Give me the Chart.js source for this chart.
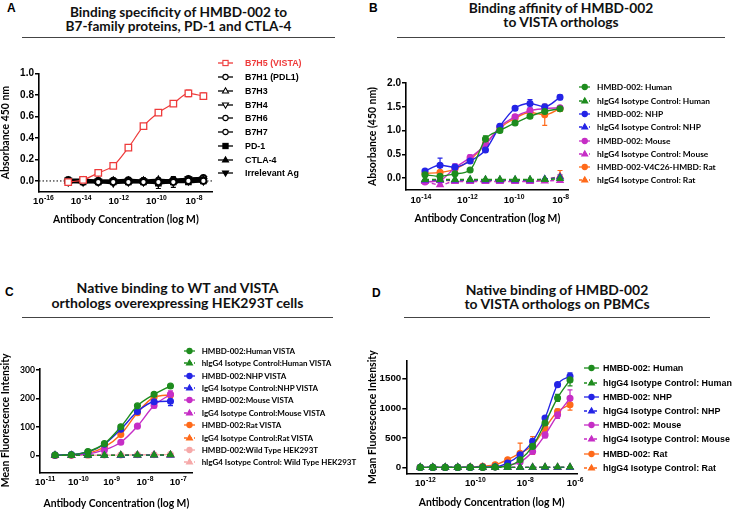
<!DOCTYPE html>
<html>
<head>
<meta charset="utf-8">
<script src="https://cdn.jsdelivr.net/npm/chart.js@4.4.1/dist/chart.umd.min.js"></script>
<style>
  body { margin: 0; background: #fff; }
  #fig { position: relative; width: 734px; height: 509px; overflow: hidden; }
  .letter { position: absolute; font: bold 12px 'Liberation Sans', Arial, sans-serif; line-height: 12px; color: #000; }
  .title { position: absolute; text-align: center; font-family: Lato, sans-serif; font-weight: bold; line-height: 14.5px; color: #111; white-space: nowrap; }
  .rule { position: absolute; height: 0; border-top: 1px solid #444; }
  canvas { position: absolute; }
  .legend { position: absolute; left: 0; top: 0; }
  .legend div { position: absolute; height: 12px; white-space: nowrap; }
</style>
</head>
<body>
<div id="fig">
  <div class="letter" style="left:7px;top:2px">A</div>
  <div class="title" id="tA" style="left:22px;width:313px">Binding specificity of HMBD-002 to<br>B7-family proteins, PD-1 and CTLA-4</div>
  <div class="rule" style="left:22px;width:313px;top:37px"></div>

  <div class="letter" style="left:369px;top:2px">B</div>
  <div class="title" id="tB" style="left:397px;width:328px">Binding affinity of HMBD-002<br>to VISTA orthologs</div>
  <div class="rule" style="left:397px;width:328px;top:37px"></div>

  <div class="letter" style="left:5px;top:286px">C</div>
  <div class="title" id="tC" style="left:22px;width:311px">Native binding to WT and VISTA<br>orthologs overexpressing HEK293T cells</div>
  <div class="rule" style="left:22px;width:311px;top:317px"></div>

  <div class="letter" style="left:372px;top:287px">D</div>
  <div class="title" id="tD" style="left:404px;width:306px">Native binding of HMBD-002<br>to VISTA orthologs on PBMCs</div>
  <div class="rule" style="left:404px;width:306px;top:317px"></div>

  <canvas id="cA" width="367" height="205" style="left:0;top:50px"></canvas>
  <canvas id="cB" width="367" height="205" style="left:367px;top:50px"></canvas>
  <canvas id="cC" width="367" height="184" style="left:0;top:330px"></canvas>
  <canvas id="cD" width="367" height="184" style="left:367px;top:330px"></canvas>
  <div class="legend" id="legA"></div>
  <div class="legend" id="legB"></div>
  <div class="legend" id="legC"></div>
  <div class="legend" id="legD"></div>
</div>
<script>
// ---------- Panel A: binding specificity (ELISA) ----------
const xA = [2.1e-15, 1.3e-14, 8.3e-14, 5.2e-13, 3.3e-12, 2.1e-11, 1.3e-10, 8.1e-10, 5.1e-9, 3.2e-8];
const vistaA = [-0.01, 0.01, 0.075, 0.14, 0.31, 0.51, 0.635, 0.72, 0.815, 0.79];
const errVistaA = [0, 0, 0.02, 0, 0, 0, 0, 0, 0.03, 0.03];
const b7h1A = [0.00, -0.01, -0.01, -0.01, -0.01, -0.01, -0.01, -0.01, 0.00, 0.00];
const b7h3A = [0.00, 0.00, 0.00, 0.00, 0.00, 0.00, 0.01, 0.00, 0.01, 0.01];
const b7h4A = [-0.01, -0.01, -0.01, -0.02, -0.01, -0.01, -0.02, -0.01, 0.00, 0.00];
const b7h6A = [0.00, 0.00, -0.01, 0.00, 0.00, 0.00, -0.01, 0.00, 0.01, 0.01];
const b7h7A = [0.01, 0.00, 0.00, 0.00, 0.01, 0.00, 0.00, 0.01, 0.02, 0.03];
const pd1A = [-0.01, -0.01, -0.01, -0.01, -0.01, -0.01, -0.02, -0.01, -0.01, 0.00];
const errPd1A = [0, 0, 0, 0, 0, 0, 0.05, 0.05, 0, 0];
const ctla4A = [0.00, 0.00, 0.00, 0.00, 0.00, 0.00, 0.00, 0.00, 0.01, 0.01];
const irrA = [0.01, 0.01, 0.00, 0.00, 0.00, 0.00, -0.01, 0.00, 0.02, 0.02];
const errIrrA = [0.025, 0.025, 0.03, 0.03, 0.03, 0.03, 0.03, 0.03, 0.015, 0.015];
const xTicksA = [1e-16, 1e-14, 1e-12, 1e-10, 1e-8];
const xExpA = ['-16', '-14', '-12', '-10', '-8'];
const yTicksA = [0, 0.2, 0.4, 0.6, 0.8, 1.0];
const yLabelsA = ['0.0', '0.2', '0.4', '0.6', '0.8', '1.0'];

// ---------- Panel B: binding affinity to orthologs ----------
const xB = [1.53e-14, 6.76e-14, 2.95e-13, 1.32e-12, 6.0e-12, 2.5e-11, 1.12e-10, 4.9e-10, 2.1e-9, 9.5e-9];
const humB = [0.07, 0.04, 0.09, 0.17, 0.82, 1.00, 1.16, 1.30, 1.40, 1.46];
const errHumB = [0, 0, 0, 0, 0.07, 0.03, 0.03, 0.03, 0.03, 0.04];
const humIsoB = [-0.03, -0.03, -0.03, -0.03, -0.03, -0.03, -0.03, -0.03, -0.03, -0.01];
const nhpB = [0.15, 0.27, 0.23, 0.36, 0.59, 1.09, 1.47, 1.57, 1.50, 1.70];
const errNhpB = [0.03, 0.15, 0.06, 0, 0.04, 0.04, 0.04, 0.08, 0.05, 0.05];
const nhpIsoB = [-0.04, -0.04, -0.04, -0.04, -0.04, -0.04, -0.04, -0.04, -0.02, 0.02];
const errNhpIsoB = [0, 0, 0, 0, 0, 0, 0, 0, 0, 0.05];
const mouB = [-0.08, -0.05, 0.22, 0.43, 0.70, 1.08, 1.29, 1.42, 1.46, 1.48];
const errMouB = [0, 0, 0.08, 0.06, 0.04, 0, 0.04, 0.04, 0, 0.04];
const mouIsoB = [-0.07, -0.14, -0.07, -0.07, -0.07, -0.07, -0.07, -0.07, -0.06, -0.05];
const ratB = [0.10, 0.12, 0.19, 0.38, 0.72, 1.05, 1.26, 1.38, 1.33, 1.46];
const errRatB = [0, 0, 0, 0, 0, 0, 0, 0.06, 0.22, 0.05];
const ratIsoB = [-0.05, -0.05, -0.05, -0.05, -0.05, -0.05, -0.05, -0.05, -0.03, 0.04];
const errRatIsoB = [0, 0, 0, 0, 0, 0, 0, 0, 0, 0.12];
const xTicksB = [1e-14, 1e-12, 1e-10, 1e-8];
const xExpB = ['-14', '-12', '-10', '-8'];
const yTicksB = [0, 0.5, 1.0, 1.5, 2.0];
const yLabelsB = ['0.0', '0.5', '1.0', '1.5', '2.0'];

// ---------- Panel C: HEK293T overexpressing cells ----------
const xC = [2.0e-11, 6.2e-11, 1.95e-10, 6.1e-10, 1.9e-9, 6.0e-9, 1.9e-8, 5.9e-8];
const humC = [2, 3, 14, 42, 101, 174, 214, 243];
const humIsoC = [1, 1, 1, 1, 2, 2, 2, 3];
const nhpC = [2, 4, 13, 40, 92, 154, 188, 190];
const errNhpC = [0, 0, 0, 0, 4, 5, 8, 15];
const nhpIsoC = [1, 1, 1, 1, 1, 2, 2, 2];
const mouC = [1, 2, 6, 20, 47, 103, 175, 214];
const errMouC = [0, 0, 0, 0, 0, 0, 8, 12];
const mouIsoC = [1, 1, 1, 1, 1, 1, 2, 2];
const ratC = [1, 2, 8, 30, 74, 150, 204, 212];
const ratIsoC = [1, 1, 1, 1, 1, 2, 2, 3];
const wtC = [1, 1, 1, 2, 2, 3, 3, 4];
const wtIsoC = [1, 1, 1, 1, 1, 1, 2, 2];
const xTicksC = [1e-11, 1e-10, 1e-9, 1e-8, 1e-7];
const xExpC = ['-11', '-10', '-9', '-8', '-7'];
const yTicksC = [0, 100, 200, 300];
const yLabelsC = ['0', '100', '200', '300'];

// ---------- Panel D: PBMCs ----------
const xD = [6.3e-13, 2e-12, 6.3e-12, 2e-11, 6.3e-11, 2e-10, 6.3e-10, 2e-9, 6.3e-9, 2e-8, 6.3e-8, 2e-7, 6.3e-7];
const humD = [0, 0, 0, 0, 0, 0, 5, 20, 130, 355, 750, 1175, 1480];
const errHumD = [0, 0, 0, 0, 0, 0, 0, 0, 20, 30, 40, 60, 100];
const humIsoD = [0, 0, 0, 0, 0, 0, 0, 0, 0, 0, 5, 5, 5];
const nhpD = [0, 0, 0, 0, 0, 5, 10, 75, 215, 440, 835, 1400, 1540];
const errNhpD = [0, 0, 0, 0, 0, 0, 0, 0, 40, 40, 30, 30, 60];
const nhpIsoD = [0, 0, 0, 0, 0, 0, 0, 0, 0, 0, 0, 0, 0];
const mouD = [0, 0, 0, 0, 0, 0, 5, 40, 90, 270, 550, 890, 1170];
const errMouD = [0, 0, 0, 0, 0, 0, 0, 0, 0, 20, 50, 60, 140];
const mouIsoD = [0, 0, 0, 0, 0, 0, 0, 0, 0, 0, 0, 0, 0];
const ratD = [0, 0, 0, 0, 5, 20, 45, 130, 240, 370, 665, 945, 1060];
const errRatD = [0, 0, 0, 0, 0, 0, 0, 0, 170, 150, 50, 40, 90];
const ratIsoD = [0, 0, 0, 0, 0, 0, 0, 0, 0, 0, 0, 0, 0];
const xTicksD = [1e-12, 1e-10, 1e-8, 1e-6];
const xExpD = ['-12', '-10', '-8', '-6'];
const yTicksD = [0, 500, 1000, 1500];
const yLabelsD = ['0', '500', '1000', '1500'];

const green = '#1e8c1e', blue = '#2424e6', magenta = '#c62ec6', orange = '#ff6a1a',
      pink = '#f6a9a9', red = '#ee3b3b', black = '#000';

// font size that gives `text` the width it has in the figure
const meas = document.createElement('canvas').getContext('2d');
function fitSize(text, family, target) {
  meas.font = 'bold 100px ' + family;
  return +(100 * target / meas.measureText(text).width).toFixed(2);
}

// panel titles: [id, width of first line, baseline of first line]
[['tA', 218, 17.3], ['tB', 185, 13.5], ['tC', 203, 294], ['tD', 183, 295.5]].forEach(([id, w, base]) => {
  const el = document.getElementById(id);
  const fs = fitSize(el.innerHTML.split('<br>')[0], 'Lato', w);
  el.style.fontSize = fs + 'px';
  el.style.top = (base - ((14.5 - 1.2 * fs) / 2 + 0.987 * fs)) + 'px';
});

const axisTitleSize = fitSize('Antibody Concentration (log M)', 'Lato', 146);
const yTitleSize = fitSize('Mean Fluorescence Intensity', 'Lato', 134);

function series(label, xs, ys, o) {
  return {
    label: label,
    data: xs.map((x, i) => ({ x: x, y: ys[i] })),
    borderColor: o.color,
    backgroundColor: o.color,
    pointBackgroundColor: o.open ? '#fff' : o.color,
    pointBorderColor: o.color,
    pointStyle: o.shape || 'circle',
    pointRotation: o.rot || 0,
    pointRadius: o.r || (o.shape === 'triangle' ? 3.6 : 2.9),
    pointBorderWidth: o.pw || 1.3,
    borderWidth: o.w || 1.4,
    borderDash: o.dash ? [4, 3] : [],
    errors: o.err || null,
    textColor: o.text || '#000'
  };
}

// Prism-style error bars from each dataset's `errors` array
const errorBars = {
  id: 'errorBars',
  beforeDatasetsDraw(chart) {
    const ctx = chart.ctx, y = chart.scales.y;
    chart.data.datasets.forEach((ds, i) => {
      if (!ds.errors) return;
      const meta = chart.getDatasetMeta(i);
      ctx.save();
      ctx.strokeStyle = ds.borderColor;
      ctx.lineWidth = 1.2;
      meta.data.forEach((pt, j) => {
        const e = ds.errors[j];
        if (!e) return;
        const v = ds.data[j].y;
        const y0 = y.getPixelForValue(v - e), y1 = y.getPixelForValue(v + e);
        ctx.beginPath();
        ctx.moveTo(pt.x, y0); ctx.lineTo(pt.x, y1);
        ctx.moveTo(pt.x - 2.5, y0); ctx.lineTo(pt.x + 2.5, y0);
        ctx.moveTo(pt.x - 2.5, y1); ctx.lineTo(pt.x + 2.5, y1);
        ctx.stroke();
      });
      ctx.restore();
    });
  }
};

// "10" with a raised exponent under each log tick
const powerTicks = {
  id: 'powerTicks',
  afterDraw(chart, args, o) {
    const s = chart.scales.x, ctx = chart.ctx;
    const base = "bold 9.5px 'Liberation Sans', Arial, sans-serif";
    const sup = "bold 6.8px 'Liberation Sans', Arial, sans-serif";
    ctx.save();
    ctx.fillStyle = black;
    ctx.textAlign = 'left';
    ctx.textBaseline = 'alphabetic';
    o.values.forEach((v, i) => {
      const px = s.getPixelForValue(v);
      ctx.font = base; const w1 = ctx.measureText('10').width;
      ctx.font = sup; const w2 = ctx.measureText(o.exps[i]).width;
      const x0 = px - (w1 + w2) / 2, yb = s.top + 12.5;
      ctx.font = base; ctx.fillText('10', x0, yb);
      ctx.font = sup; ctx.fillText(o.exps[i], x0 + w1 + 0.3, yb - 4);
    });
    ctx.restore();
  }
};

function plot(id, datasets, c) {
  return new Chart(document.getElementById(id), {
    type: 'line',
    data: { datasets: datasets },
    options: {
      responsive: false,
      animation: false,
      devicePixelRatio: 1,
      layout: { padding: c.pad },
      elements: {
        line: { tension: 0.4, cubicInterpolationMode: 'monotone', fill: false }
      },
      plugins: {
        legend: { display: false },
        tooltip: { enabled: false },
        powerTicks: { values: c.xTicks, exps: c.xExps }
      },
      scales: {
        x: {
          type: 'logarithmic',
          min: c.xMin, max: c.xMax,
          afterBuildTicks: s => { s.ticks = c.xTicks.map(v => ({ value: v })); },
          afterFit: s => { s.height = c.xH; },
          grid: { display: false },
          border: { color: black, width: 1.6 },
          ticks: { display: false },
          title: { display: true, text: 'Antibody Concentration (log M)', color: black,
                   font: { family: 'Lato', weight: 'bold', size: axisTitleSize }, padding: 0 }
        },
        y: {
          min: c.yMin, max: c.yMax,
          afterBuildTicks: s => { s.ticks = c.yTicks.map(v => ({ value: v })); },
          afterFit: s => { s.width = c.yW; },
          grid: { drawOnChartArea: false, drawTicks: true, tickLength: 4, color: black, lineWidth: 1.5 },
          border: { color: black, width: 1.6 },
          ticks: { padding: 1, color: black, font: c.tickFont, callback: (v, i) => c.yLabels[i] },
          title: { display: true, text: c.yTitle, color: black,
                   font: { family: 'Lato', weight: 'bold', size: yTitleSize, lineHeight: 1 }, padding: 0 }
        }
      }
    },
    plugins: [errorBars, powerTicks]
  });
}

function symbolSvg(ds, L) {
  const c = ds.borderColor, f = ds.pointBackgroundColor, m = L / 2, y = 6;
  const dash = ds.borderDash.length ? ' stroke-dasharray="3 2"' : '';
  let shape;
  if (ds.pointStyle === 'rect') {
    shape = `<rect x="${m - 2.6}" y="${y - 2.6}" width="5.2" height="5.2"/>`;
  } else if (ds.pointStyle === 'triangle') {
    const k = ds.pointRotation ? -1 : 1;
    shape = `<polygon points="${m},${y - 3.2 * k} ${m + 3},${y + 2 * k} ${m - 3},${y + 2 * k}"/>`;
  } else {
    shape = `<circle cx="${m}" cy="${y}" r="2.6"/>`;
  }
  return `<svg width="${L}" height="12" style="position:absolute;left:0;top:0">` +
    `<line x1="0" y1="${y}" x2="${L}" y2="${y}" stroke="${c}" stroke-width="1.3"${dash}/>` +
    `<g fill="${f}" stroke="${c}" stroke-width="1.1">${shape}</g></svg>`;
}

// HTML legend built from the chart's own legend items
function htmlLegend(chart, id, o) {
  const box = document.getElementById(id);
  const items = Chart.defaults.plugins.legend.labels.generateLabels(chart)
    .filter(it => !chart.data.datasets[it.datasetIndex].hideInLegend);
  items.forEach((it, i) => {
    const ds = chart.data.datasets[it.datasetIndex];
    const row = document.createElement('div');
    row.style.left = o.x + 'px';
    row.style.top = (o.y + i * o.dy - 6) + 'px';
    row.innerHTML = symbolSvg(ds, o.sym) +
      `<span style="position:absolute;left:${o.tx - o.x}px;top:0;font:${o.font};line-height:12px;color:${ds.textColor}">${it.text}</span>`;
    box.appendChild(row);
  });
}

const arialTick = { family: 'Liberation Sans', weight: 'bold', size: 10 };

// ---- A ----
const chartA = plot('cA', [
  series('B7H5 (VISTA)', xA, vistaA, { color: red, open: true, shape: 'rect', r: 4.6, err: errVistaA, text: red, w: 1.2 }),
  series('B7H1 (PDL1)', xA, b7h1A, { color: black, open: true, w: 2.6, pw: 1.6 }),
  series('B7H3', xA, b7h3A, { color: black, open: true, shape: 'triangle', w: 2.6, pw: 1.6 }),
  series('B7H4', xA, b7h4A, { color: black, open: true, shape: 'triangle', rot: 180, w: 2.6, pw: 1.6 }),
  series('B7H6', xA, b7h6A, { color: black, open: true, w: 2.6, pw: 1.6 }),
  series('B7H7', xA, b7h7A, { color: black, open: true, w: 2.6, pw: 1.6 }),
  series('PD-1', xA, pd1A, { color: black, shape: 'rect', r: 3.8, err: errPd1A, w: 2.6 }),
  series('CTLA-4', xA, ctla4A, { color: black, shape: 'triangle', w: 2.6 }),
  series('Irrelevant Ag', xA, irrA, { color: black, shape: 'triangle', rot: 180, err: errIrrA, w: 2.6 }),
  { label: 'zero', data: [{ x: 5.9e-17, y: 0 }, { x: 1e-7, y: 0 }], borderColor: black, borderWidth: 1,
    borderDash: [1.5, 2], pointRadius: 0, hideInLegend: true, order: 10, tension: 0 }
], { pad: { left: 0, top: 23.5, right: 154.3, bottom: 29 }, yW: 39, xH: 34.3,
     xMin: 5.9e-17, xMax: 1e-7, xTicks: xTicksA, xExps: xExpA,
     yMin: -0.1, yMax: 1.0, yTicks: yTicksA, yLabels: yLabelsA,
     yTitle: 'Absorbance 450 nm', tickFont: arialTick });
htmlLegend(chartA, 'legA', { x: 218, tx: 245, y: 63.3, dy: 13.75, sym: 15,
  font: `bold ${fitSize('B7H5 (VISTA)', "'Liberation Sans'", 56.7)}px 'Liberation Sans', Arial, sans-serif` });

// ---- B ----
const chartB = plot('cB', [
  series('HMBD-002: Human', xB, humB, { color: green, err: errHumB }),
  series('hIgG4 Isotype Control: Human', xB, humIsoB, { color: green, shape: 'triangle', dash: true }),
  series('HMBD-002: NHP', xB, nhpB, { color: blue, err: errNhpB }),
  series('hIgG4 Isotype Control: NHP', xB, nhpIsoB, { color: blue, shape: 'triangle', dash: true, err: errNhpIsoB }),
  series('HMBD-002: Mouse', xB, mouB, { color: magenta, err: errMouB }),
  series('hIgG4 Isotype Control: Mouse', xB, mouIsoB, { color: magenta, shape: 'triangle', dash: true }),
  series('HMBD-002-V4C26-HMBD: Rat', xB, ratB, { color: orange, err: errRatB }),
  series('hIgG4 Isotype Control: Rat', xB, ratIsoB, { color: orange, shape: 'triangle', dash: true, err: errRatIsoB })
], { pad: { left: 0, top: 33, right: 165.3, bottom: 30 }, yW: 39, xH: 35,
     xMin: 2.34e-15, xMax: 2.24e-8, xTicks: xTicksB, xExps: xExpB,
     yMin: -0.25, yMax: 2.0, yTicks: yTicksB, yLabels: yLabelsB,
     yTitle: 'Absorbance (450 nm)', tickFont: arialTick });
htmlLegend(chartB, 'legB', { x: 578.7, tx: 597, y: 87.3, dy: 13.3, sym: 11.5,
  font: `bold ${fitSize('hIgG4 Isotype Control: Human', 'Lato', 113)}px Lato, sans-serif` });

// ---- C ----
const chartC = plot('cC', [
  series('HMBD-002:Human VISTA', xC, humC, { color: green }),
  series('hIgG4 Isotype Control:Human VISTA', xC, humIsoC, { color: green, shape: 'triangle', dash: true }),
  series('HMBD-002:NHP VISTA', xC, nhpC, { color: blue, err: errNhpC }),
  series('IgG4 Isotype Control:NHP VISTA', xC, nhpIsoC, { color: blue, shape: 'triangle', dash: true }),
  series('HMBD-002:Mouse VISTA', xC, mouC, { color: magenta, err: errMouC }),
  series('IgG4 Isotype Control:Mouse VISTA', xC, mouIsoC, { color: magenta, shape: 'triangle', dash: true }),
  series('HMBD-002:Rat VISTA', xC, ratC, { color: orange }),
  series('IgG4 Isotype Control:Rat VISTA', xC, ratIsoC, { color: orange, shape: 'triangle', dash: true }),
  series('HMBD-002:Wild Type HEK293T', xC, wtC, { color: pink }),
  series('hIgG4 Isotype Control: Wild Type HEK293T', xC, wtIsoC, { color: pink, shape: 'triangle', dash: true })
], { pad: { left: 0, top: 38.3, right: 174.3, bottom: 4.4 }, yW: 40, xH: 37.3,
     xMin: 7.08e-12, xMax: 2.75e-7, xTicks: xTicksC, xExps: xExpC,
     yMin: -58, yMax: 305, yTicks: yTicksC, yLabels: yLabelsC,
     yTitle: 'Mean Fluorescence Intensity',
     tickFont: { family: 'Lato', weight: 'bold', size: fitSize('300', 'Lato', 15) } });
htmlLegend(chartC, 'legC', { x: 184, tx: 201.7, y: 351, dy: 12.37, sym: 11,
  font: `bold ${fitSize('hIgG4 Isotype Control: Wild Type HEK293T', 'Lato', 155)}px Lato, sans-serif` });

// ---- D ----
const chartD = plot('cD', [
  series('HMBD-002: Human', xD, humD, { color: green, err: errHumD }),
  series('hIgG4 Isotype Control: Human', xD, humIsoD, { color: green, shape: 'triangle', dash: true }),
  series('HMBD-002: NHP', xD, nhpD, { color: blue, err: errNhpD }),
  series('hIgG4 Isotype Control: NHP', xD, nhpIsoD, { color: blue, shape: 'triangle', dash: true }),
  series('HMBD-002: Mouse', xD, mouD, { color: magenta, err: errMouD }),
  series('hIgG4 Isotype Control: Mouse', xD, mouIsoD, { color: magenta, shape: 'triangle', dash: true }),
  series('HMBD-002: Rat', xD, ratD, { color: orange, err: errRatD }),
  series('hIgG4 Isotype Control: Rat', xD, ratIsoD, { color: orange, shape: 'triangle', dash: true })
], { pad: { left: 0, top: 31, right: 157, bottom: 5 }, yW: 39.3, xH: 35.7,
     xMin: 1.74e-13, xMax: 1.2e-6, xTicks: xTicksD, xExps: xExpD,
     yMin: -100, yMax: 1800, yTicks: yTicksD, yLabels: yLabelsD,
     yTitle: 'Mean Fluorescence Intensity', tickFont: { family: 'Liberation Sans', weight: 'bold', size: 9.8 } });
htmlLegend(chartD, 'legD', { x: 583.7, tx: 603, y: 368.3, dy: 14.2, sym: 15,
  font: `bold ${fitSize('hIgG4 Isotype Control: Human', "'Liberation Sans'", 129)}px 'Liberation Sans', Arial, sans-serif` });
</script>
</body>
</html>
